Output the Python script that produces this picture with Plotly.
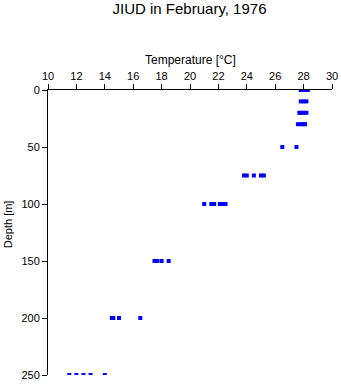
import plotly.graph_objects as go

# Temperature [°C] readings per depth [m]
depth_0 = [27.8, 28.0, 28.1, 28.3]
depth_10 = [27.8, 28.0, 28.2]
depth_20 = [27.7, 27.8, 28.0, 28.2]
depth_30 = [27.6, 27.8, 28.0, 28.1]
depth_50 = [26.5, 27.5]
depth_75 = [23.8, 24.0, 24.5, 25.0, 25.2]
depth_100 = [21.0, 21.5, 21.7, 22.1, 22.3, 22.5]
depth_150 = [17.5, 17.7, 18.0, 18.5]
depth_200 = [14.5, 14.6, 15.0, 16.5]
depth_250 = [11.5, 12.0, 12.5, 13.0, 14.0]

depths = [0, 10, 20, 30, 50, 75, 100, 150, 200, 250]
temps = [depth_0, depth_10, depth_20, depth_30, depth_50, depth_75,
         depth_100, depth_150, depth_200, depth_250]

xs, ys = [], []
for d, tl in zip(depths, temps):
    for t in tl:
        xs.append(t)
        ys.append(d)

fig = go.Figure()
fig.add_trace(go.Scatter(
    x=xs, y=ys, mode="markers",
    marker=dict(symbol="square", size=4, color="#0000FF", line=dict(width=0)),
    showlegend=False, hoverinfo="x+y",
))

font = "Liberation Sans, Arial, sans-serif"
fig.update_layout(
    width=341, height=384, autosize=False,
    margin=dict(l=47.5, r=9, t=90.3, b=8.7, autoexpand=False),
    paper_bgcolor="white", plot_bgcolor="white",
    font=dict(family=font, size=11, color="black"),
    title=dict(text="JIUD in February, 1976", x=189.5 / 341,
               xanchor="center", y=1 - 8.5 / 384, yanchor="middle",
               font=dict(size=15, family=font, color="black")),
    xaxis=dict(side="top", range=[10, 30], dtick=2, tick0=10, automargin=False,
               showline=True, linecolor="black", linewidth=1,
               ticks="outside", ticklen=5, tickcolor="black",
               showgrid=False, zeroline=False,
               tickfont=dict(size=11, family=font)),
    yaxis=dict(range=[250, 0], dtick=50, tick0=0, automargin=False,
               showline=True, linecolor="black", linewidth=1,
               ticks="outside", ticklen=5, tickcolor="black",
               showgrid=False, zeroline=False,
               tickfont=dict(size=11, family=font)),
    annotations=[
        dict(text="Temperature [°C]", xref="paper", yref="paper",
             x=0.5, y=1 + (90.3 - 60) / 285, xanchor="center", yanchor="middle",
             showarrow=False, font=dict(size=12, family=font)),
        dict(text="Depth [m]", xref="paper", yref="paper",
             x=(7 - 47.5) / 284.5, y=(375.3 - 225) / 285,
             xanchor="center", yanchor="middle", textangle=-90,
             showarrow=False, font=dict(size=11, family=font)),
    ],
)

fig.write_html("out.html")
